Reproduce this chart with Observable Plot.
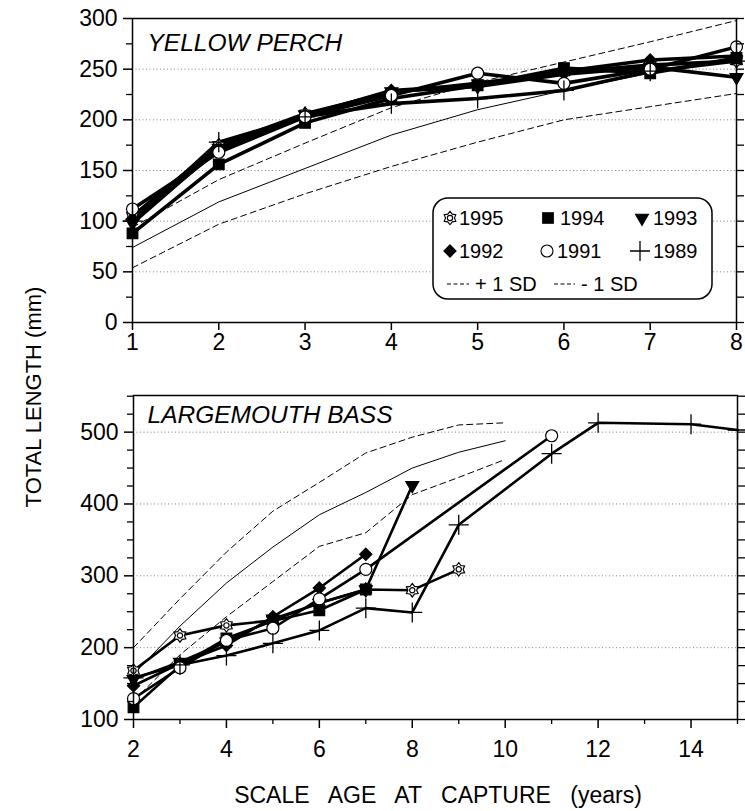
<!DOCTYPE html>
<html><head><meta charset="utf-8">
<script src="https://cdn.jsdelivr.net/npm/d3@7"></script>
<script src="https://cdn.jsdelivr.net/npm/@observablehq/plot@0.6"></script>
<style>
body{margin:0;background:#fff;}
#wrap{position:relative;width:745px;height:811px;overflow:hidden;background:#fff;}
#wrap > *{position:absolute;left:0;}
</style></head><body><div id="wrap"></div>
<script>
const FONT = '"Liberation Sans", Arial, Helvetica, sans-serif';

// ---------- YELLOW PERCH (top panel) ----------
const perchAge = [1, 2, 3, 4, 5, 6, 7, 8];
const perch1995 = [105, 175, 206, 227, 236, 247, 254, 258];
const perch1994 = [88, 156, 197, 221, 234, 251, 246, 261];
const perch1993 = [98, 172, 205, 228, 233, 245, 252, 242];
const perch1992 = [102, 170, 204, 229, 234, 248, 259, 263];
const perch1991 = [112, 168, 203, 224, 246, 236, 250, 272];
const perch1989 = [100, 178, 203, 216, 221, 229, 248, 258];
const perchMean = [74, 119, 152, 185, 210, 229, 246, 262];
const perchPlusSD = [94, 141, 177, 212, 237, 257, 277, 298];
const perchMinusSD = [54, 97, 127, 154, 178, 200, 213, 226];

// ---------- LARGEMOUTH BASS (bottom panel) ----------
const bass1995Age = [2, 3, 4, 5, 6, 7, 8, 9];
const bass1995 = [168, 217, 231, 238, 262, 281, 280, 309];
const bass1994Age = [2, 3, 4, 5, 6, 7];
const bass1994 = [117, 175, 213, 237, 252, 281];
const bass1993Age = [2, 3, 4, 5, 6, 7, 8];
const bass1993 = [156, 180, 208, 240, 262, 281, 426];
const bass1992Age = [2, 3, 4, 5, 6, 7];
const bass1992 = [147, 178, 203, 243, 283, 330];
const bass1991Age = [2, 3, 4, 5, 6, 7, 11];
const bass1991 = [129, 172, 210, 227, 268, 309, 495];
const bass1989Age = [2, 3, 4, 5, 6, 7, 8, 9, 11, 12, 14, 15];
const bass1989 = [158, 176, 189, 206, 224, 255, 249, 371, 470, 513, 511, 503];
const bassStatAge = [2, 3, 4, 5, 6, 7, 8, 9, 10];
const bassMean = [163, 230, 290, 340, 385, 416, 450, 472, 488];
const bassPlusSD = [200, 268, 333, 390, 430, 471, 493, 510, 513];
const bassMinusSD = [126, 190, 243, 292, 341, 360, 413, 437, 462];

// ---------- labels / ticks ----------
const yearLabels = ["1995", "1994", "1993", "1992", "1991", "1989"];
const perchYTicks = [0, 50, 100, 150, 200, 250, 300];
const perchXTicks = [1, 2, 3, 4, 5, 6, 7, 8];
const bassYTicks = [100, 200, 300, 400, 500];
const bassXTicks = [2, 4, 6, 8, 10, 12, 14];
const bassXMinor = [3, 5, 7, 9, 11, 13, 15];

// six-pointed "sun" star used for 1995
const sunStar = {
  draw(ctx, size) {
    const R = Math.sqrt(size / Math.PI) * 1.2, r0 = R * 0.66;
    for (let i = 0; i < 12; i++) {
      const a = -Math.PI / 2 + i * Math.PI / 6, rr = i % 2 ? r0 : R;
      const x = rr * Math.cos(a), y = rr * Math.sin(a);
      i ? ctx.lineTo(x, y) : ctx.moveTo(x, y);
    }
    ctx.closePath();
    const c = r0 * 0.6;
    ctx.moveTo(c, 0);
    ctx.arc(0, 0, c, 0, 2 * Math.PI);
  }
};

// marker styles per year
const symbolOf = {"1995": sunStar, "1994": d3.symbolSquare, "1993": d3.symbolTriangle, "1992": d3.symbolDiamond2, "1991": d3.symbolCircle, "1989": d3.symbolPlus};
const fillOf = {"1995": "white", "1994": "black", "1993": "black", "1992": "black", "1991": "white", "1989": "none"};
const rOf = {"1995": 5.6, "1994": 6, "1993": 4.8, "1992": 5.5, "1991": 6, "1989": 6.5};

function rows(year, ages, vals) { return ages.map((a, i) => ({year, age: a, len: vals[i]})); }
const perchRows = [perch1995, perch1994, perch1993, perch1992, perch1991, perch1989]
  .flatMap((v, i) => rows(yearLabels[i], perchAge, v));
const bassRows = [
  rows("1995", bass1995Age, bass1995), rows("1994", bass1994Age, bass1994),
  rows("1993", bass1993Age, bass1993), rows("1992", bass1992Age, bass1992),
  rows("1991", bass1991Age, bass1991), rows("1989", bass1989Age, bass1989)
].flat();
const perchStat = perchAge.map((a, i) => ({age: a, mean: perchMean[i], hi: perchPlusSD[i], lo: perchMinusSD[i]}));
const bassStat = bassStatAge.map((a, i) => ({age: a, mean: bassMean[i], hi: bassPlusSD[i], lo: bassMinusSD[i]}));

const range = (a, b, s) => d3.range(a, b + s / 2, s);

function markerMarks(data) {
  return yearLabels.map(y => Plot.dot(data.filter(d => d.year === y), {
    x: "age", y: "len", symbol: symbolOf[y], r: rOf[y],
    fill: fillOf[y], stroke: "black",
    strokeWidth: y === "1989" ? 1.3 : 1.2,
    rotate: y === "1993" ? 180 : 0
  }));
}

const style = {fontFamily: FONT, fontSize: "23px", color: "black", background: "transparent", overflow: "visible"};
const gridStyle = {stroke: "#666", strokeOpacity: 0.9, strokeWidth: 0.9, strokeDasharray: "1,2.5"};

const topPlot = Plot.plot({
  width: 745, height: 360,
  marginLeft: 132, marginRight: 9, marginTop: 18, marginBottom: 38,
  x: {domain: [1, 8], label: null},
  y: {domain: [0, 300], label: null},
  style,
  marks: [
    Plot.gridY([50, 100, 150, 200, 250], gridStyle),
    Plot.line(perchStat, {x: "age", y: "hi", stroke: "black", strokeWidth: 1, strokeDasharray: "6,4"}),
    Plot.line(perchStat, {x: "age", y: "lo", stroke: "black", strokeWidth: 1, strokeDasharray: "6,4"}),
    Plot.line(perchStat, {x: "age", y: "mean", stroke: "black", strokeWidth: 1}),
    Plot.line(perchRows, {x: "age", y: "len", z: "year", stroke: "black", strokeWidth: 3.6}),
    ...markerMarks(perchRows),
    Plot.frame({stroke: "black", strokeWidth: 1.5}),
    Plot.axisY(perchYTicks, {tickSize: 9, tickPadding: 6, fontSize: 23, strokeWidth: 1.5, label: null}),
    Plot.axisY(range(25, 275, 50), {tickSize: 6, tickFormat: () => "", strokeWidth: 1.3, label: null}),
    Plot.axisY(range(0, 300, 25), {anchor: "right", tickSize: 7, tickFormat: () => "", strokeWidth: 1.3, label: null}),
    Plot.axisX(perchXTicks, {tickSize: 8, tickPadding: 3, fontSize: 23, strokeWidth: 1.5, label: null}),
    Plot.text(["YELLOW PERCH"], {frameAnchor: "top-left", dx: 15, dy: 32, lineAnchor: "bottom", textAnchor: "start", fontSize: 24.5, fontStyle: "italic"})
  ]
});
topPlot.style.top = "0px";

const botPlot = Plot.plot({
  width: 745, height: 451,
  marginLeft: 133, marginRight: 8, marginTop: 35, marginBottom: 92,
  x: {domain: [2, 15], label: null},
  y: {domain: [100, 551], label: null},
  style,
  marks: [
    Plot.gridY([200, 300, 400, 500], gridStyle),
    Plot.line(bassStat, {x: "age", y: "hi", stroke: "black", strokeWidth: 1, strokeDasharray: "6,4"}),
    Plot.line(bassStat, {x: "age", y: "lo", stroke: "black", strokeWidth: 1, strokeDasharray: "6,4"}),
    Plot.line(bassStat, {x: "age", y: "mean", stroke: "black", strokeWidth: 1}),
    Plot.line(bassRows, {x: "age", y: "len", z: "year", stroke: "black", strokeWidth: 2.6}),
    ...markerMarks(bassRows),
    Plot.frame({stroke: "black", strokeWidth: 1.5}),
    Plot.axisY(bassYTicks, {tickSize: 9, tickPadding: 6, fontSize: 23, strokeWidth: 1.5, label: null}),
    Plot.axisY(range(125, 550, 25).filter(v => v % 100 !== 0), {tickSize: 6, tickFormat: () => "", strokeWidth: 1.3, label: null}),
    Plot.axisY(range(100, 550, 25), {anchor: "right", tickSize: 7, tickFormat: () => "", strokeWidth: 1.3, label: null}),
    Plot.axisX(bassXTicks, {tickSize: 9, tickPadding: 12, fontSize: 23, strokeWidth: 1.5, label: null}),
    Plot.axisX(bassXMinor, {tickSize: 5, tickFormat: () => "", strokeWidth: 1.3, label: null}),
    Plot.text(["LARGEMOUTH BASS"], {frameAnchor: "top-left", dx: 14, dy: 27, lineAnchor: "bottom", textAnchor: "start", fontSize: 24.5, fontStyle: "italic"})
  ]
});
botPlot.style.top = "360px";

const wrap = document.getElementById("wrap");
wrap.appendChild(topPlot);
wrap.appendChild(botPlot);

// ---------- overlay: axis titles + legend ----------
const svg = d3.create("svg").attr("width", 745).attr("height", 811)
  .style("top", "0px").style("font-family", FONT).style("pointer-events", "none");
svg.append("text").attr("transform", "translate(41,397) rotate(-90)")
  .attr("text-anchor", "middle").attr("font-size", 22).text("TOTAL LENGTH (mm)");
svg.append("text").attr("x", 438).attr("y", 803).attr("text-anchor", "middle")
  .attr("font-size", 23).attr("word-spacing", 13).text("SCALE AGE AT CAPTURE (years)");

const lg = svg.append("g");
lg.append("rect").attr("x", 433).attr("y", 198).attr("width", 279).attr("height", 101)
  .attr("rx", 15).attr("fill", "white").attr("stroke", "black").attr("stroke-width", 1.5);
const legendItems = [
  {year: "1995", sx: 450, tx: 459, cy: 218},
  {year: "1994", sx: 548, tx: 560, cy: 218},
  {year: "1993", sx: 642, tx: 653, cy: 218},
  {year: "1992", sx: 450, tx: 459, cy: 251},
  {year: "1991", sx: 547, tx: 557, cy: 251},
  {year: "1989", sx: 640, tx: 653, cy: 251}
];
legendItems.forEach(it => {
  const y = it.year, r = rOf[y];
  lg.append("path")
    .attr("d", d3.symbol(symbolOf[y], Math.PI * r * r)())
    .attr("transform", `translate(${it.sx},${it.cy})` + (y === "1993" ? " rotate(180)" : ""))
    .attr("fill", fillOf[y]).attr("stroke", "black").attr("stroke-width", y === "1989" ? 1.3 : 1.1);
  lg.append("text").attr("x", it.tx).attr("y", it.cy + 7).attr("font-size", 20).text(y);
});
lg.append("line").attr("x1", 447).attr("x2", 469).attr("y1", 284).attr("y2", 284)
  .attr("stroke", "black").attr("stroke-width", 1).attr("stroke-dasharray", "4,2.5");
lg.append("text").attr("x", 475).attr("y", 291).attr("font-size", 20).text("+ 1 SD");
lg.append("line").attr("x1", 554).attr("x2", 575).attr("y1", 284).attr("y2", 284)
  .attr("stroke", "black").attr("stroke-width", 1).attr("stroke-dasharray", "4,2.5");
lg.append("text").attr("x", 581).attr("y", 291).attr("font-size", 20).text("- 1 SD");
wrap.appendChild(svg.node());
</script></body></html>
